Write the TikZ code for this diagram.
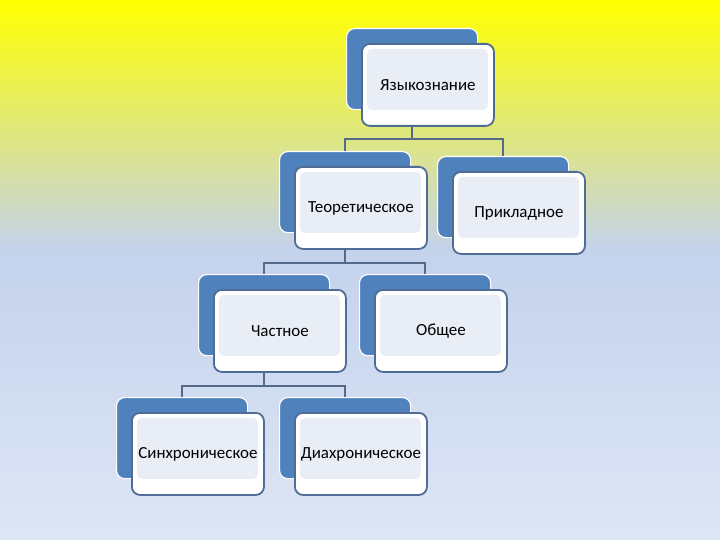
\documentclass[tikz,border=0pt]{standalone}
\usepackage{fontspec}
\setmainfont{Carlito}
\definecolor{blueback}{HTML}{4F81BD}
\definecolor{frontline}{HTML}{4E6C94}
\definecolor{innerfill}{HTML}{E8EDF6}
\definecolor{connline}{HTML}{55698A}
\definecolor{bgY}{HTML}{FFFF00}
\definecolor{bgM}{HTML}{C4D2EC}
\definecolor{bgB}{HTML}{DDE6F5}
\begin{document}
\begin{tikzpicture}[x=1bp,y=-1bp,
  backbox/.style={rectangle, rounded corners=8bp, fill=blueback, draw=white, line width=1.2bp,
    minimum width=131bp, minimum height=81bp, inner sep=0pt, anchor=north west},
  frontbox/.style={rectangle, rounded corners=8bp, fill=white, draw=frontline, line width=1.8bp,
    minimum width=132bp, minimum height=82bp, inner sep=0pt, anchor=north west,
    path picture={\fill[innerfill, rounded corners=5bp]
      ([shift={(5bp,-5bp)}]path picture bounding box.north west) rectangle
      ([shift={(-6bp,16bp)}]path picture bounding box.south east);
      \node[anchor=center, text=black, font=\fontsize{17}{20}\selectfont]
        at ([yshift=-0.5bp]path picture bounding box.center) {\tikzpictext};}},
  conn/.style={draw=connline, line width=1.6bp}
]
\useasboundingbox (0,0) rectangle (720,540);
\shade[top color=bgY, bottom color=bgM] (0,0) rectangle (720,250);
\shade[top color=bgM, bottom color=bgB] (0,250) rectangle (720,540);

\newcommand{\tikzpictext}{}
\newcommand{\mkelem}[4]{%
  \node[backbox] (#1b) at (#2,#3) {};
  \renewcommand{\tikzpictext}{#4}%
  \node[frontbox] (#1) at (#2+15,#3+15) {};
}

\mkelem{root}{346}{28}{Языкознание}
\mkelem{teo}{279}{151}{Теоретическое}
\mkelem{pri}{437}{156}{Прикладное}
\mkelem{cha}{198}{274}{Частное}
\mkelem{obs}{359}{274}{Общее}
\mkelem{sin}{116}{397}{Синхроническое}
\mkelem{dia}{279}{397}{Диахроническое}

\coordinate (r1) at ([yshift=-12bp]rootb.center |- root.south);
\draw[conn] (rootb.center |- root.south) -- (r1);
\draw[conn] (r1) -| (teob.north);
\draw[conn] (r1) -| (prib.north);

\coordinate (t1) at ([yshift=-13bp]teob.center |- teo.south);
\draw[conn] (teob.center |- teo.south) -- (t1);
\draw[conn] (t1) -| (chab.north);
\draw[conn] (t1) -| (obsb.north);

\coordinate (c1) at ([yshift=-13bp]chab.center |- cha.south);
\draw[conn] (chab.center |- cha.south) -- (c1);
\draw[conn] (c1) -| (sinb.north);
\draw[conn] (c1) -| (diab.north);
\end{tikzpicture}
\end{document}
